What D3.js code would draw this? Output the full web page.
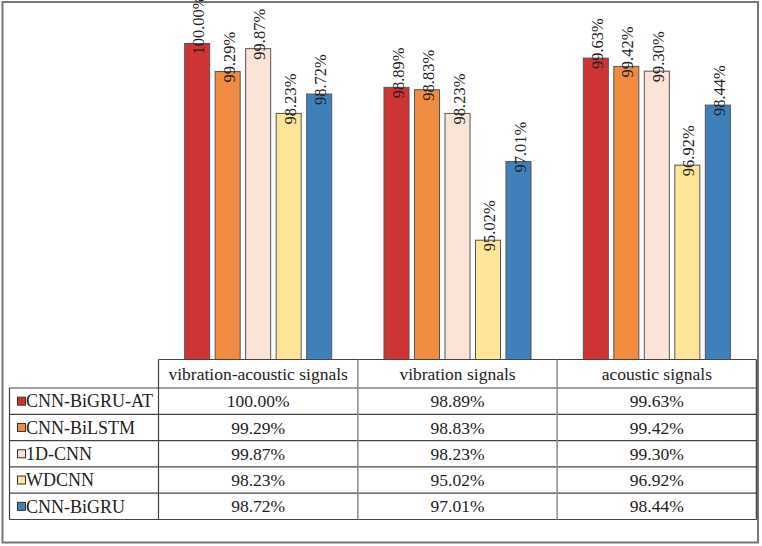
<!DOCTYPE html>
<html>
<head>
<meta charset="utf-8">
<script src="https://cdn.jsdelivr.net/npm/d3@7"></script>
<style>
  html, body { margin: 0; padding: 0; background: #fff; }
  svg { display: block; }
</style>
</head>
<body>
<svg id="chart" width="762" height="546"></svg>
<script>
// ---- data ----
const categories = ["vibration-acoustic signals", "vibration signals", "acoustic signals"];
const models = ["CNN-BiGRU-AT", "CNN-BiLSTM", "1D-CNN", "WDCNN", "CNN-BiGRU"];
const accCNN_BiGRU_AT = [100.00, 98.89, 99.63];
const accCNN_BiLSTM   = [99.29, 98.83, 99.42];
const acc1D_CNN       = [99.87, 98.23, 99.30];
const accWDCNN        = [98.23, 95.02, 96.92];
const accCNN_BiGRU    = [98.72, 97.01, 98.44];
const colors = ["#CF3434", "#EF8C3F", "#FBE4D7", "#FFE599", "#3F80BB"];

const series = [accCNN_BiGRU_AT, accCNN_BiLSTM, acc1D_CNN, accWDCNN, accCNN_BiGRU];
const fmt = v => v.toFixed(2) + "%";
const FONT = '"Liberation Serif"';

const svg = d3.select("#chart");

// outer frame
svg.append("rect").attr("x", 2.5).attr("y", 2).attr("width", 755.5).attr("height", 540.5)
  .attr("fill", "none").attr("stroke", "#777").attr("stroke-width", 2);

// scales
const tableLeft = 9.5, colLeft = 158.5, tableRight = 756.5;
const headerTop = 359.5, rowTop = 388, rowH = 26.3;

const x0 = d3.scaleBand().domain(categories).range([colLeft, tableRight]).padding(0);
const groupW = 152.5;
const x1 = d3.scaleBand().domain(models).range([0, groupW]).paddingInner(0.18).paddingOuter(0.09);
const y = d3.scaleLinear().domain([92, 101]).range([headerTop, 4]);

const textFill = "#222";

// bars
const groups = svg.append("g").selectAll("g").data(categories).join("g")
  .attr("transform", d => `translate(${x0(d) + (x0.bandwidth() - groupW) / 2},0)`);

groups.each(function(cat, ci) {
  const g = d3.select(this);
  models.forEach((m, mi) => {
    const v = series[mi][ci];
    g.append("rect")
      .attr("x", x1(m)).attr("y", y(v))
      .attr("width", x1.bandwidth()).attr("height", headerTop - y(v))
      .attr("fill", colors[mi]).attr("stroke", "#555").attr("stroke-width", 1);
  });
  models.forEach((m, mi) => {
    const v = series[mi][ci];
    const cx = x1(m) + x1.bandwidth() / 2;
    g.append("text")
      .attr("transform", `translate(${cx + 7},${y(v) + 11}) rotate(-90)`)
      .attr("text-anchor", "start")
      .attr("fill", textFill)
      .style("font-family", FONT)
      .style("font-size", "16.5px")
      .text(fmt(v));
  });
});

// table
const tbl = svg.append("g");
const lineDark = "#444", lineGray = "#8a8a8a";
const nRows = models.length;
const tableBottom = rowTop + nRows * rowH;

tbl.append("line").attr("x1", colLeft).attr("x2", tableRight).attr("y1", headerTop).attr("y2", headerTop)
  .attr("stroke", lineDark).attr("stroke-width", 1.2);
for (let i = 0; i <= nRows; i++) {
  const yy = rowTop + i * rowH;
  tbl.append("line").attr("x1", tableLeft).attr("x2", tableRight).attr("y1", yy).attr("y2", yy)
    .attr("stroke", lineDark).attr("stroke-width", 1.2);
}
tbl.append("line").attr("x1", tableLeft).attr("x2", tableLeft).attr("y1", rowTop).attr("y2", tableBottom)
  .attr("stroke", lineDark).attr("stroke-width", 1.2);
tbl.append("line").attr("x1", colLeft).attr("x2", colLeft).attr("y1", headerTop).attr("y2", tableBottom)
  .attr("stroke", lineDark).attr("stroke-width", 1.2);
categories.forEach((c, i) => {
  const xx = x0(c) + x0.bandwidth();
  tbl.append("line").attr("x1", xx).attr("x2", xx).attr("y1", headerTop).attr("y2", tableBottom)
    .attr("stroke", i === categories.length - 1 ? lineDark : lineGray).attr("stroke-width", 1.5);
});

categories.forEach(c => {
  tbl.append("text").attr("x", x0(c) + x0.bandwidth() / 2).attr("y", (headerTop + rowTop) / 2)
    .attr("dy", "0.35em").attr("text-anchor", "middle").attr("fill", textFill)
    .style("font-family", FONT).style("font-size", "17.5px").text(c);
});

models.forEach((m, mi) => {
  const cy = rowTop + mi * rowH + rowH / 2;
  tbl.append("rect").attr("x", 17.5).attr("y", cy - 4).attr("width", 8).attr("height", 8)
    .attr("fill", colors[mi]).attr("stroke", "#333").attr("stroke-width", 1);
  tbl.append("text").attr("x", 26).attr("y", cy).attr("dy", "0.35em").attr("fill", textFill)
    .style("font-family", FONT).style("font-size", "18px").text(m);
  categories.forEach((c, ci) => {
    tbl.append("text").attr("x", x0(c) + x0.bandwidth() / 2).attr("y", cy).attr("dy", "0.35em")
      .attr("text-anchor", "middle").attr("fill", textFill)
      .style("font-family", FONT).style("font-size", "17.5px").text(fmt(series[mi][ci]));
  });
});
</script>
</body>
</html>
